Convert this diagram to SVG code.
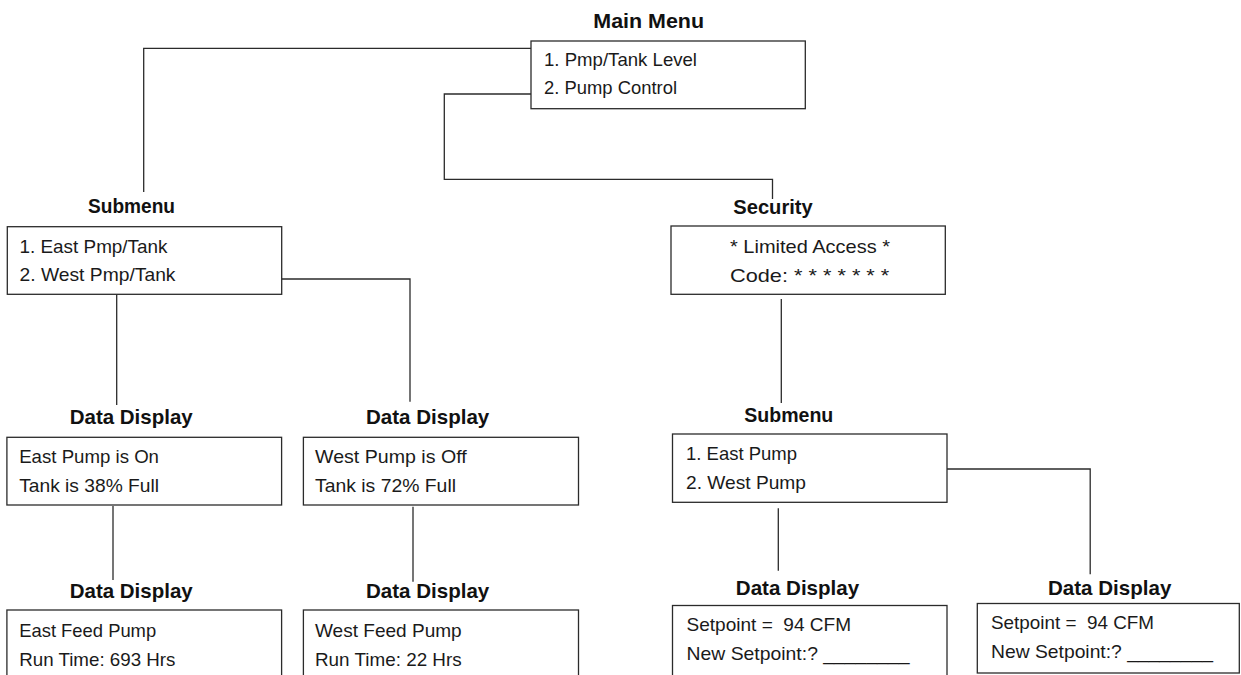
<svg xmlns="http://www.w3.org/2000/svg" width="1241" height="675" viewBox="0 0 1241 675">
  <style>
    .bg { fill: #ffffff; }
    .box { fill: #ffffff; stroke: #2b2b2b; stroke-width: 1.3; }
    .wire { fill: none; stroke: #2b2b2b; stroke-width: 1.3; }
    .ttl { font-family: "Liberation Sans", Arial, sans-serif; font-weight: bold; font-size: 21px; fill: #111; text-anchor: middle; }
    .txt { font-family: "Liberation Sans", Arial, sans-serif; font-size: 19px; fill: #1a1a1a; white-space: pre; }
  </style>
  <rect class="bg" x="0" y="0" width="1241" height="675"/>

  <!-- connectors -->
  <g id="connectors">
    <path class="wire" d="M531,48.3 H143.7 V192"/>
    <path class="wire" d="M531,94 H444.3 V179.3 H772.5 V199"/>
    <path class="wire" d="M116.7,294.3 V405"/>
    <path class="wire" d="M281.7,279 H410 V401.7"/>
    <path class="wire" d="M781.3,299 V403"/>
    <path class="wire" d="M113,506 V580"/>
    <path class="wire" d="M413,506.7 V581.7"/>
    <path class="wire" d="M778.3,508.3 V570.7"/>
    <path class="wire" d="M947,469 H1090.2 V574.3"/>
  </g>

  <!-- Main Menu -->
  <g id="main-menu">
    <text class="ttl" x="648.7" y="27.7" textLength="110.7" lengthAdjust="spacingAndGlyphs">Main Menu</text>
    <rect class="box" x="531" y="41" width="274.3" height="67.7"/>
    <text class="txt" x="544" y="65.7" textLength="153" lengthAdjust="spacingAndGlyphs">1. Pmp/Tank Level</text>
    <text class="txt" x="544" y="94.3" textLength="133" lengthAdjust="spacingAndGlyphs">2. Pump Control</text>
  </g>

  <!-- Submenu (tank levels) -->
  <g id="submenu-tank">
    <text class="ttl" x="131.5" y="213.3" textLength="87" lengthAdjust="spacingAndGlyphs">Submenu</text>
    <rect class="box" x="7.3" y="226.7" width="274.4" height="67.6"/>
    <text class="txt" x="19.5" y="252.5" textLength="148" lengthAdjust="spacingAndGlyphs">1. East Pmp/Tank</text>
    <text class="txt" x="19.5" y="281" textLength="156" lengthAdjust="spacingAndGlyphs">2. West Pmp/Tank</text>
  </g>

  <!-- Security -->
  <g id="security">
    <text class="ttl" x="773" y="213.5" textLength="79.4" lengthAdjust="spacingAndGlyphs">Security</text>
    <rect class="box" x="671" y="226" width="274.3" height="68.3"/>
    <text class="txt" x="730" y="253.3" textLength="160" lengthAdjust="spacingAndGlyphs">* Limited Access *</text>
    <text class="txt" x="730" y="281.7" textLength="159.3" lengthAdjust="spacingAndGlyphs">Code: * * * * * * *</text>
  </g>

  <!-- East pump/tank status -->
  <g id="east-status">
    <text class="ttl" x="131.2" y="424.3" textLength="123" lengthAdjust="spacingAndGlyphs">Data Display</text>
    <rect class="box" x="6.9" y="437.3" width="274.7" height="67.7"/>
    <text class="txt" x="19.2" y="462.7" textLength="139.8" lengthAdjust="spacingAndGlyphs">East Pump is On</text>
    <text class="txt" x="19.2" y="492.3" textLength="139.8" lengthAdjust="spacingAndGlyphs">Tank is 38% Full</text>
  </g>

  <!-- West pump/tank status -->
  <g id="west-status">
    <text class="ttl" x="427.6" y="424.3" textLength="123.4" lengthAdjust="spacingAndGlyphs">Data Display</text>
    <rect class="box" x="303.4" y="437.3" width="275.1" height="67.7"/>
    <text class="txt" x="315" y="462.7" textLength="151.7" lengthAdjust="spacingAndGlyphs">West Pump is Off</text>
    <text class="txt" x="315" y="492.3" textLength="141" lengthAdjust="spacingAndGlyphs">Tank is 72% Full</text>
  </g>

  <!-- East feed pump run time -->
  <g id="east-runtime">
    <text class="ttl" x="131.2" y="598.3" textLength="123" lengthAdjust="spacingAndGlyphs">Data Display</text>
    <rect class="box" x="6.9" y="610" width="274.7" height="100"/>
    <text class="txt" x="19.2" y="637.3" textLength="137" lengthAdjust="spacingAndGlyphs">East Feed Pump</text>
    <text class="txt" x="19.2" y="665.7" textLength="156.3" lengthAdjust="spacingAndGlyphs">Run Time: 693 Hrs</text>
  </g>

  <!-- West feed pump run time -->
  <g id="west-runtime">
    <text class="ttl" x="427.6" y="598.3" textLength="123.4" lengthAdjust="spacingAndGlyphs">Data Display</text>
    <rect class="box" x="303.4" y="610" width="275.1" height="100"/>
    <text class="txt" x="315" y="637.3" textLength="146.7" lengthAdjust="spacingAndGlyphs">West Feed Pump</text>
    <text class="txt" x="315" y="665.7" textLength="146.7" lengthAdjust="spacingAndGlyphs">Run Time: 22 Hrs</text>
  </g>

  <!-- Submenu (pump control) -->
  <g id="submenu-pump">
    <text class="ttl" x="788.8" y="421.7" textLength="89" lengthAdjust="spacingAndGlyphs">Submenu</text>
    <rect class="box" x="672.5" y="434" width="274.5" height="68.3"/>
    <text class="txt" x="686" y="460" textLength="111" lengthAdjust="spacingAndGlyphs">1. East Pump</text>
    <text class="txt" x="686" y="489.3" textLength="120" lengthAdjust="spacingAndGlyphs">2. West Pump</text>
  </g>

  <!-- East pump setpoint -->
  <g id="east-setpoint">
    <text class="ttl" x="797.5" y="595" textLength="123.4" lengthAdjust="spacingAndGlyphs">Data Display</text>
    <rect class="box" x="672.5" y="605.5" width="274.5" height="100"/>
    <text class="txt" x="686.5" y="631" textLength="164.5" lengthAdjust="spacingAndGlyphs">Setpoint =  94 CFM</text>
    <text class="txt" x="686.5" y="660" textLength="223" lengthAdjust="spacingAndGlyphs">New Setpoint:? ________</text>
  </g>

  <!-- West pump setpoint -->
  <g id="west-setpoint">
    <text class="ttl" x="1109.7" y="595" textLength="123.4" lengthAdjust="spacingAndGlyphs">Data Display</text>
    <rect class="box" x="977.3" y="603.5" width="262" height="69.5"/>
    <text class="txt" x="991" y="628.5" textLength="163" lengthAdjust="spacingAndGlyphs">Setpoint =  94 CFM</text>
    <text class="txt" x="991" y="657.5" textLength="222" lengthAdjust="spacingAndGlyphs">New Setpoint:? ________</text>
  </g>
</svg>
